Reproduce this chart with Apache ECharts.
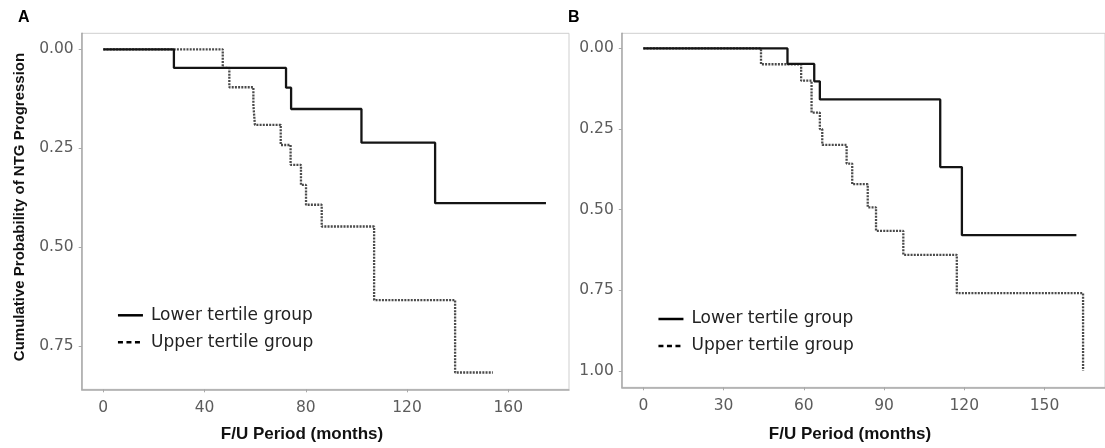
<!DOCTYPE html>
<html>
<head>
<meta charset="utf-8">
<script src="https://cdn.jsdelivr.net/npm/echarts@6/dist/echarts.min.js"></script>
<style>
html,body{margin:0;padding:0;background:#fff;}
#chart{width:1105px;height:448px;}
</style>
</head>
<body>
<div id="chart"></div>
<script>
// ---- Data ----
const seriesNames = ['Lower tertile group', 'Upper tertile group'];

// Panel A
const aLowerTime = [0, 27.9, 72.2, 74.2, 102.0, 131.1, 174.9];
const aLowerProb = [0, 0.047, 0.097, 0.151, 0.236, 0.389, 0.389];
const aUpperTime = [0, 47.2, 49.8, 59.3, 59.9, 70.1, 74.0, 78.1, 80.1, 86.3, 107.0, 139.0, 153.9];
const aUpperProb = [0, 0.047, 0.096, 0.141, 0.191, 0.242, 0.292, 0.343, 0.393, 0.448, 0.634, 0.817, 0.817];

// Panel B
const bLowerTime = [0, 53.9, 63.9, 66.0, 111.0, 119.1, 161.9];
const bLowerProb = [0, 0.048, 0.102, 0.158, 0.368, 0.579, 0.579];
const bUpperTime = [0, 44.0, 59.0, 62.9, 66.0, 66.9, 76.0, 78.1, 83.9, 87.0, 97.2, 117.2, 164.4];
const bUpperProb = [0, 0.049, 0.100, 0.199, 0.250, 0.299, 0.357, 0.421, 0.493, 0.566, 0.640, 0.759, 1.0];

// Tick labels
const aXTicks = [0, 40, 80, 120, 160];
const aYTicks = [0, 0.25, 0.5, 0.75];
const bXTicks = [0, 30, 60, 90, 120, 150];
const bYTicks = [0, 0.25, 0.5, 0.75, 1.0];

const xTitle = 'F/U Period (months)';
const yTitle = 'Cumulative Probability of NTG Progression';

function pairs(t, p) { return t.map((v, i) => [v, p[i]]); }

const chart = echarts.init(document.getElementById('chart'), null, {renderer: 'canvas'});

const tickFont = {color: '#5c5c5c', fontSize: 15.5, fontFamily: 'DejaVu Sans'};
const axisLineStyle = {color: '#a8a8a8', width: 1.5};

function xAxisDef(idx, min, max, ticks) {
  return {
    type: 'value', gridIndex: idx, min: min, max: max,
    axisLine: {show: true, onZero: false, lineStyle: axisLineStyle},
    axisTick: {show: true, length: 3, lineStyle: {color: '#a8a8a8'}, customValues: ticks},
    axisLabel: Object.assign({margin: 11, customValues: ticks, formatter: v => String(v)}, tickFont),
    splitLine: {show: false}
  };
}
function yAxisDef(idx, min, max, ticks) {
  return {
    type: 'value', gridIndex: idx, min: min, max: max, inverse: true,
    axisLine: {show: true, onZero: false, lineStyle: axisLineStyle},
    axisTick: {show: true, length: 3, lineStyle: {color: '#a8a8a8'}, customValues: ticks},
    axisLabel: Object.assign({margin: 8, customValues: ticks, formatter: v => v.toFixed(2)}, tickFont),
    splitLine: {show: false}
  };
}

const solidStyle = {color: '#141414', width: 2.3, type: 'solid'};
const dottedStyle = {color: '#4a4a4a', width: 2.3, type: [2, 1.2]};

function legendItems(top, left) {
  return {
    orient: 'vertical', left: left, top: top,
    itemWidth: 25, itemHeight: 14, itemGap: 7,
    textStyle: {fontFamily: 'DejaVu Sans', fontSize: 17, color: '#222', lineHeight: 20, padding: [0, 0, 0, 3]},
    data: [
      {name: seriesNames[0], itemStyle: {opacity: 0}, lineStyle: {color: '#000', width: 2.5, type: 'solid'}},
      {name: seriesNames[1], itemStyle: {opacity: 0}, lineStyle: {color: '#000', width: 2.5, type: [5, 3.5]}}
    ]
  };
}

const option = {
  animation: false,
  backgroundColor: '#fff',
  grid: [
    {left: 81.7, top: 33.3, width: 487.3, height: 356, show: true, borderColor: '#cfcfcf', borderWidth: 1, backgroundColor: '#fff', containLabel: false},
    {left: 621.8, top: 33.3, width: 487.7, height: 354, show: true, borderColor: '#cfcfcf', borderWidth: 1, backgroundColor: '#fff', containLabel: false}
  ],
  xAxis: [
    xAxisDef(0, -8.53, 184.0, aXTicks),
    xAxisDef(1, -8.04, 172.6, bXTicks)
  ],
  yAxis: [
    yAxisDef(0, -0.0404, 0.8595, aYTicks),
    yAxisDef(1, -0.047, 1.051, bYTicks)
  ],
  legend: [legendItems(300.3, 111.7), legendItems(304, 652.2)],
  series: [
    {name: seriesNames[0], type: 'line', step: 'end', xAxisIndex: 0, yAxisIndex: 0, symbol: 'none', lineStyle: solidStyle, itemStyle: {color: '#141414'}, data: pairs(aLowerTime, aLowerProb), z: 3},
    {name: seriesNames[1], type: 'line', step: 'end', xAxisIndex: 0, yAxisIndex: 0, symbol: 'none', lineStyle: dottedStyle, itemStyle: {color: '#4a4a4a'}, data: pairs(aUpperTime, aUpperProb), z: 2},
    {name: seriesNames[0], type: 'line', step: 'end', xAxisIndex: 1, yAxisIndex: 1, symbol: 'none', lineStyle: solidStyle, itemStyle: {color: '#141414'}, data: pairs(bLowerTime, bLowerProb), z: 3},
    {name: seriesNames[1], type: 'line', step: 'end', xAxisIndex: 1, yAxisIndex: 1, symbol: 'none', lineStyle: dottedStyle, itemStyle: {color: '#4a4a4a'}, data: pairs(bUpperTime, bUpperProb), z: 2}
  ],
  title: [
    {text: xTitle, left: 297, top: 421, textAlign: 'center', textStyle: {fontFamily: 'Liberation Sans', fontWeight: 'bold', fontSize: 17, color: '#111'}},
    {text: xTitle, left: 845, top: 421, textAlign: 'center', textStyle: {fontFamily: 'Liberation Sans', fontWeight: 'bold', fontSize: 17, color: '#111'}}
  ],
  graphic: [
    {type: 'text', x: 18, y: 17.5, style: {text: 'A', fontFamily: 'Liberation Sans', fontWeight: 'bold', fontSize: 16, fill: '#000', textVerticalAlign: 'middle'}},
    {type: 'text', x: 568, y: 17.5, style: {text: 'B', fontFamily: 'Liberation Sans', fontWeight: 'bold', fontSize: 16, fill: '#000', textVerticalAlign: 'middle'}},
    {type: 'text', x: 20, y: 207, rotation: Math.PI / 2, style: {text: yTitle, fontFamily: 'Liberation Sans', fontWeight: 'bold', fontSize: 15, fill: '#111', textAlign: 'center', textVerticalAlign: 'middle'}}
  ]
};

chart.setOption(option);
</script>
</body>
</html>
